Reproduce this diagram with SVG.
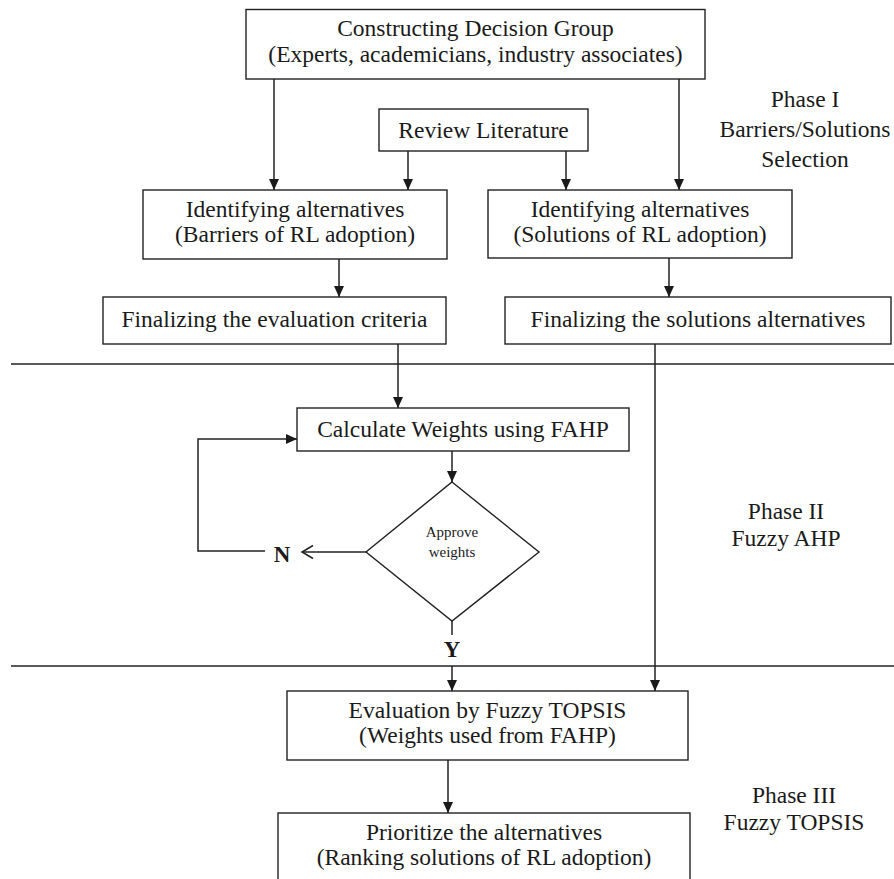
<svg xmlns="http://www.w3.org/2000/svg" width="894" height="879" viewBox="0 0 894 879">
<defs>
<style>
.box{fill:#fff;stroke:#222;stroke-width:1.4}
.ln{fill:none;stroke:#222;stroke-width:1.5}
.t{font-family:"Liberation Serif","Times New Roman",serif;font-size:23.5px;fill:#1a1a1a;text-anchor:middle}
.s{font-family:"Liberation Serif","Times New Roman",serif;font-size:15px;fill:#1a1a1a;text-anchor:middle}
.b{font-family:"Liberation Serif","Times New Roman",serif;font-size:23px;font-weight:bold;fill:#1a1a1a;text-anchor:middle}
</style>
<marker id="arr" markerUnits="userSpaceOnUse" viewBox="0 0 11 10" markerWidth="11" markerHeight="10" refX="11" refY="5" orient="auto">
<path d="M0,0 L11,5 L0,10 z" fill="#1a1a1a"/>
</marker>
</defs>
<rect width="894" height="879" fill="#fff"/>

<g id="phase-dividers">
<line class="ln" x1="11" y1="364" x2="894" y2="364"/>
<line class="ln" x1="11" y1="666" x2="894" y2="666"/>
</g>

<g id="connectors">
<line class="ln" x1="274" y1="79" x2="274" y2="190" marker-end="url(#arr)"/>
<line class="ln" x1="679" y1="79" x2="679" y2="190" marker-end="url(#arr)"/>
<line class="ln" x1="408" y1="151" x2="408" y2="190" marker-end="url(#arr)"/>
<line class="ln" x1="566" y1="151" x2="566" y2="190" marker-end="url(#arr)"/>
<line class="ln" x1="339" y1="259" x2="339" y2="297" marker-end="url(#arr)"/>
<line class="ln" x1="669" y1="258" x2="669" y2="297" marker-end="url(#arr)"/>
<line class="ln" x1="398" y1="344" x2="398" y2="408" marker-end="url(#arr)"/>
<line class="ln" x1="655" y1="344" x2="655" y2="691" marker-end="url(#arr)"/>
<line class="ln" x1="452" y1="451" x2="452" y2="482" marker-end="url(#arr)"/>
<line class="ln" x1="366" y1="552" x2="302" y2="552"/>
<polyline class="ln" points="313,545.5 302,552 313,558.5"/>
<polyline class="ln" points="265,551 198,551 198,439 297,439" marker-end="url(#arr)"/>
<line class="ln" x1="452" y1="621" x2="452" y2="635"/>
<line class="ln" x1="452" y1="666" x2="452" y2="691" marker-end="url(#arr)"/>
<line class="ln" x1="448" y1="760" x2="448" y2="813" marker-end="url(#arr)"/>
</g>

<g id="decision-group">
<rect class="box" x="246" y="9.5" width="459" height="69.5"/>
<text class="t" x="475.5" y="36">Constructing Decision Group</text>
<text class="t" x="475.5" y="62">(Experts, academicians, industry associates)</text>
</g>

<g id="review-literature">
<rect class="box" x="379" y="109" width="209" height="42"/>
<text class="t" x="483.5" y="138">Review Literature</text>
</g>

<g id="identify-barriers">
<rect class="box" x="143" y="190" width="304" height="69"/>
<text class="t" x="295" y="217">Identifying alternatives</text>
<text class="t" x="295" y="242">(Barriers of RL adoption)</text>
</g>

<g id="identify-solutions">
<rect class="box" x="488" y="190" width="304" height="68"/>
<text class="t" x="640" y="217">Identifying alternatives</text>
<text class="t" x="640" y="242">(Solutions of RL adoption)</text>
</g>

<g id="finalize-criteria">
<rect class="box" x="103" y="297" width="343" height="47"/>
<text class="t" x="274.5" y="327">Finalizing the evaluation criteria</text>
</g>

<g id="finalize-solutions">
<rect class="box" x="505" y="297" width="386" height="47"/>
<text class="t" x="698" y="327">Finalizing the solutions alternatives</text>
</g>

<g id="calculate-weights">
<rect class="box" x="297" y="408" width="332" height="43"/>
<text class="t" x="463" y="437">Calculate Weights using FAHP</text>
</g>

<g id="approve-weights">
<polygon class="box" points="452,482 539,552 452,621 366,552"/>
<text class="s" x="452" y="537">Approve</text>
<text class="s" x="452" y="557">weights</text>
</g>

<g id="label-n">
<text class="b" x="282" y="562">N</text>
</g>
<g id="label-y">
<text class="b" x="452" y="657">Y</text>
</g>

<g id="evaluation-topsis">
<rect class="box" x="287" y="691" width="401" height="69"/>
<text class="t" x="487.5" y="718">Evaluation by Fuzzy TOPSIS</text>
<text class="t" x="487.5" y="743">(Weights used from FAHP)</text>
</g>

<g id="prioritize">
<rect class="box" x="278" y="813" width="412" height="80"/>
<text class="t" x="484" y="840">Prioritize the alternatives</text>
<text class="t" x="484" y="865">(Ranking solutions of RL adoption)</text>
</g>

<g id="phase-labels">
<text class="t" x="805" y="107">Phase I</text>
<text class="t" x="805" y="137">Barriers/Solutions</text>
<text class="t" x="805" y="167">Selection</text>
<text class="t" x="786" y="519">Phase II</text>
<text class="t" x="786" y="546">Fuzzy AHP</text>
<text class="t" x="794" y="803">Phase III</text>
<text class="t" x="794" y="830">Fuzzy TOPSIS</text>
</g>
</svg>
